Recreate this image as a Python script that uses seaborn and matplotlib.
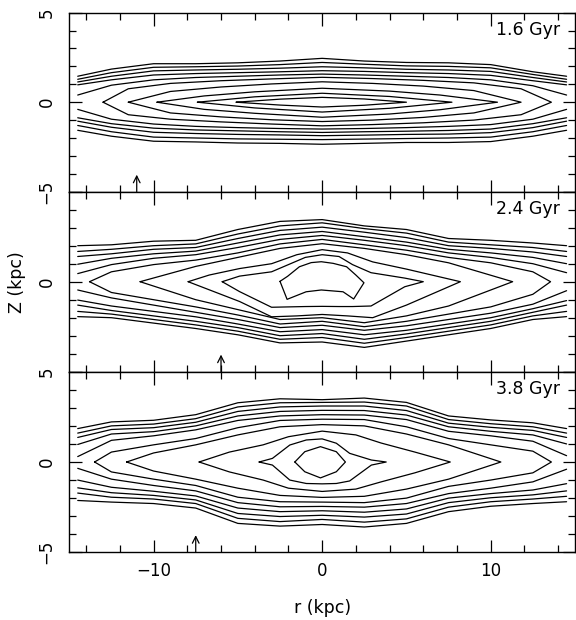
import numpy as np
import pandas as pd
import matplotlib
matplotlib.use("Agg")
import matplotlib.pyplot as plt
import seaborn as sns
from matplotlib.ticker import MultipleLocator, FixedLocator

# ---------------- data ----------------
R_NODES = [-14.5, -12.5, -10, -7.5, -5, -2.5, 0, 2.5, 5, 7.5, 10, 12.5, 14.5]
AGES = ["1.6 Gyr", "2.4 Gyr", "3.8 Gyr"]
ARROW_R = [-11.0, -6.0, -7.5]

# Panel 1 (1.6 Gyr): open contours, upper (outer->inner) and lower (inner->outer)
P1_UP = [
    [1.45, 1.85, 2.15, 2.15, 2.20, 2.30, 2.45, 2.30, 2.22, 2.20, 2.10, 1.70, 1.45],
    [1.28, 1.65, 1.95, 1.98, 2.02, 2.10, 2.22, 2.12, 2.03, 2.00, 1.92, 1.55, 1.28],
    [1.13, 1.45, 1.75, 1.80, 1.84, 1.90, 1.98, 1.92, 1.84, 1.80, 1.72, 1.38, 1.13],
    [0.97, 1.25, 1.52, 1.60, 1.65, 1.70, 1.76, 1.72, 1.65, 1.60, 1.50, 1.20, 0.97],
    [0.40, 0.95, 1.25, 1.38, 1.45, 1.52, 1.57, 1.52, 1.45, 1.38, 1.25, 0.92, 0.40],
]
P1_LOW = [
    [-0.40, -0.95, -1.22, -1.35, -1.42, -1.47, -1.50, -1.47, -1.42, -1.35, -1.25, -0.95, -0.40],
    [-0.87, -1.20, -1.45, -1.55, -1.60, -1.65, -1.69, -1.65, -1.62, -1.58, -1.50, -1.20, -0.87],
    [-1.06, -1.40, -1.68, -1.75, -1.80, -1.83, -1.87, -1.84, -1.80, -1.78, -1.70, -1.42, -1.06],
    [-1.30, -1.65, -1.95, -2.00, -2.05, -2.07, -2.09, -2.06, -2.03, -2.00, -1.95, -1.65, -1.30],
    [-1.57, -1.90, -2.18, -2.22, -2.28, -2.30, -2.35, -2.30, -2.25, -2.25, -2.20, -1.90, -1.57],
]
# closed contours: (r nodes, upper z, lower z)
P1_CLOSED = [
    ([-13.0, -11.5, -9, -6, -3, 0, 3, 6, 9, 11.8, 13.6],
     [0, 0.75, 1.05, 1.20, 1.30, 1.39, 1.32, 1.22, 1.08, 0.75, 0],
     [0, -0.70, -0.95, -1.10, -1.22, -1.32, -1.25, -1.15, -1.00, -0.70, 0]),
    ([-11.5, -9, -6, -3, 0, 3, 6, 9, 11.8],
     [0, 0.60, 0.85, 1.02, 1.14, 1.05, 0.90, 0.65, 0],
     [0, -0.60, -0.82, -0.98, -1.08, -1.00, -0.85, -0.60, 0]),
    ([-9.8, -7, -4, 0, 4, 7, 10.4],
     [0, 0.35, 0.58, 0.78, 0.62, 0.40, 0],
     [0, -0.40, -0.62, -0.84, -0.66, -0.42, 0]),
    ([-7.4, -4, 0, 4, 7.7],
     [0, 0.30, 0.50, 0.32, 0],
     [0, -0.32, -0.55, -0.34, 0]),
    ([-5.1, -2.5, 0, 2.5, 5.0],
     [0, 0.17, 0.27, 0.18, 0],
     [0, -0.16, -0.27, -0.17, 0]),
]

# Panel 2 (2.4 Gyr)
P2_UP = [
    [2.00, 2.05, 2.25, 2.30, 2.90, 3.35, 3.45, 3.10, 2.90, 2.40, 2.30, 2.15, 2.00],
    [1.68, 1.80, 2.00, 2.10, 2.65, 3.10, 3.27, 2.95, 2.70, 2.20, 2.05, 1.90, 1.68],
    [1.40, 1.55, 1.80, 1.90, 2.40, 2.85, 3.03, 2.75, 2.45, 2.00, 1.85, 1.65, 1.40],
    [0.97, 1.30, 1.55, 1.70, 2.15, 2.60, 2.79, 2.50, 2.20, 1.80, 1.60, 1.35, 1.00],
    [0.45, 0.95, 1.30, 1.50, 1.90, 2.35, 2.57, 2.30, 2.00, 1.60, 1.35, 1.00, 0.50],
]
P2_LOW = [
    [-0.46, -0.90, -1.30, -1.70, -2.10, -2.55, -2.42, -2.70, -2.45, -2.10, -1.75, -1.25, -0.50],
    [-1.02, -1.35, -1.65, -1.95, -2.35, -2.78, -2.66, -2.95, -2.70, -2.35, -2.00, -1.50, -1.05],
    [-1.30, -1.60, -1.90, -2.20, -2.55, -3.00, -2.88, -3.20, -2.90, -2.55, -2.20, -1.70, -1.30],
    [-1.65, -1.80, -2.10, -2.40, -2.75, -3.20, -3.10, -3.42, -3.10, -2.75, -2.40, -1.90, -1.65],
    [-1.94, -2.00, -2.30, -2.60, -2.95, -3.40, -3.35, -3.65, -3.30, -2.95, -2.60, -2.10, -1.94],
]
P2_CLOSED = [
    ([-13.8, -12.5, -10, -7.5, -5, -2.5, 0, 2.5, 5, 7.5, 10, 12.5, 13.55],
     [0, 0.55, 0.95, 1.20, 1.60, 2.10, 2.35, 2.05, 1.75, 1.35, 1.05, 0.55, 0],
     [0, -0.60, -1.00, -1.40, -1.85, -2.35, -2.20, -2.50, -2.20, -1.80, -1.40, -0.70, 0]),
    ([-10.8, -7.5, -5, -2.5, 0, 2.5, 5, 7.5, 11.3],
     [0, 0.85, 1.35, 1.85, 2.11, 1.85, 1.50, 1.05, 0],
     [0, -1.00, -1.55, -2.10, -2.00, -2.28, -1.90, -1.35, 0]),
    ([-7.95, -6.7, -4.9, -3, -1.5, 0, 1.5, 3, 5, 8.2],
     [0, 0.37, 0.73, 1.00, 1.50, 1.78, 1.60, 1.10, 0.70, 0],
     [0, -0.45, -1.10, -1.95, -1.90, -1.82, -1.90, -2.00, -1.30, 0]),
    ([-5.93, -4.9, -3.0, -2.0, -1.0, 0, 1.0, 1.8, 2.9, 4.9, 6.0],
     [0, 0.31, 0.55, 0.95, 1.35, 1.50, 1.40, 0.95, 0.50, 0.20, 0],
     [0, -0.55, -1.42, -1.40, -1.38, -1.37, -1.38, -1.38, -1.35, -0.28, 0]),
]
# irregular innermost contour of panel 2, given as a ring of vertices
P2_RING_R = [-2.50, -2.05, -1.35, -0.65, -0.05, 0.65, 1.45, 2.00, 2.48, 1.87, 1.24, -0.05, -0.95, -2.08]
P2_RING_Z = [0.02, 0.30, 0.83, 1.06, 1.11, 1.02, 0.83, 0.37, -0.06, -0.96, -0.56, -0.46, -0.56, -0.98]

# Panel 3 (3.8 Gyr)
P3_UP = [
    [1.85, 2.22, 2.31, 2.62, 3.28, 3.50, 3.45, 3.54, 3.30, 2.55, 2.33, 2.17, 1.85],
    [1.60, 2.00, 2.10, 2.40, 3.05, 3.28, 3.30, 3.32, 3.10, 2.35, 2.12, 1.95, 1.60],
    [1.36, 1.80, 1.90, 2.20, 2.80, 3.05, 3.10, 3.10, 2.85, 2.15, 1.92, 1.75, 1.36],
    [0.97, 1.55, 1.68, 2.00, 2.55, 2.80, 2.86, 2.85, 2.60, 1.95, 1.70, 1.50, 1.00],
    [0.30, 1.20, 1.45, 1.78, 2.30, 2.55, 2.62, 2.60, 2.35, 1.70, 1.45, 1.15, 0.35],
]
P3_LOW = [
    [-0.35, -0.95, -1.30, -1.60, -2.25, -2.48, -2.46, -2.50, -2.30, -1.75, -1.45, -1.10, -0.40],
    [-1.00, -1.40, -1.62, -1.88, -2.55, -2.75, -2.70, -2.78, -2.60, -2.00, -1.75, -1.55, -1.20],
    [-1.43, -1.70, -1.85, -2.10, -2.85, -3.02, -2.95, -3.05, -2.88, -2.25, -1.98, -1.82, -1.60],
    [-1.72, -1.95, -2.05, -2.30, -3.12, -3.30, -3.18, -3.33, -3.15, -2.50, -2.20, -2.05, -1.90],
    [-2.13, -2.22, -2.30, -2.55, -3.40, -3.55, -3.46, -3.60, -3.40, -2.75, -2.45, -2.30, -2.20],
]
P3_CLOSED = [
    ([-13.5, -12.5, -10, -7.5, -5, -2.5, 0, 2.5, 5, 7.5, 10, 12.5, 13.6],
     [0, 0.55, 0.95, 1.30, 1.90, 2.30, 2.37, 2.35, 1.95, 1.30, 0.95, 0.60, 0],
     [0, -0.55, -0.95, -1.30, -1.95, -2.20, -2.22, -2.25, -2.00, -1.35, -1.00, -0.60, 0]),
    ([-11.6, -10, -7.5, -5, -2.5, 0, 2.5, 5, 7.5, 10.6],
     [0, 0.50, 0.95, 1.50, 1.95, 2.07, 2.00, 1.55, 0.95, 0],
     [0, -0.50, -0.95, -1.45, -1.85, -1.96, -1.90, -1.50, -0.95, 0]),
    ([-7.3, -5.5, -3.5, -2, 0, 2, 3.5, 5.5, 7.6],
     [0, 0.55, 0.95, 1.40, 1.71, 1.50, 1.05, 0.55, 0],
     [0, -0.55, -1.00, -1.45, -1.63, -1.50, -1.10, -0.60, 0]),
    ([-3.74, -2.95, -1.92, -0.94, 0, 0.84, 1.63, 2.92, 3.8],
     [0, 0.20, 0.94, 1.22, 1.28, 1.04, 0.48, 0.11, 0],
     [0, -0.17, -1.00, -1.19, -1.21, -1.19, -1.05, -0.17, 0]),
    ([-1.62, -1.03, -0.10, 0.84, 1.38],
     [0, 0.57, 0.85, 0.57, 0],
     [0, -0.54, -0.88, -0.54, 0]),
]

PANELS = [
    (P1_UP, P1_LOW, P1_CLOSED, None),
    (P2_UP, P2_LOW, P2_CLOSED, (P2_RING_R, P2_RING_Z)),
    (P3_UP, P3_LOW, P3_CLOSED, None),
]


def panel_frame(up, low, closed, ring):
    rows = []
    cid = 0
    for line in up + low:
        for r, z in zip(R_NODES, line):
            rows.append((cid, r, z))
        cid += 1
    for rs, zu, zl in closed:
        path_r = list(rs) + list(rs[::-1])
        path_z = list(zu) + list(zl[::-1])
        for r, z in zip(path_r, path_z):
            rows.append((cid, r, z))
        cid += 1
    if ring is not None:
        rr, zz = ring
        for r, z in zip(list(rr) + [rr[0]], list(zz) + [zz[0]]):
            rows.append((cid, r, z))
        cid += 1
    return pd.DataFrame(rows, columns=["cid", "r", "z"])


sns.set_style("ticks")
plt.rcParams["font.family"] = ["DejaVu Sans"]
plt.rcParams["text.color"] = "black"
plt.rcParams["xtick.color"] = "black"
plt.rcParams["ytick.color"] = "black"
plt.rcParams["xtick.labelcolor"] = "black"
plt.rcParams["ytick.labelcolor"] = "black"

W, H = 576, 620
fig = plt.figure(figsize=(W / 100, H / 100), dpi=100)
left_px, right_px = 69.3, 575.0
tops = [12.7, 191.7, 371.7]
bots = [191.7, 371.7, 552.3]

for i, (up, low, closed, ring) in enumerate(PANELS):
    ax = fig.add_axes([left_px / W, 1 - bots[i] / H,
                       (right_px - left_px) / W, (bots[i] - tops[i]) / H])
    df = panel_frame(up, low, closed, ring)
    sns.lineplot(data=df, x="r", y="z", units="cid", estimator=None, sort=False,
                 color="black", linewidth=0.9, legend=False, ax=ax)
    ax.set_xlim(-15, 15)
    ax.set_ylim(-5, 5)
    ax.set_xlabel("")
    ax.set_ylabel("")
    for s in ax.spines.values():
        s.set_visible(True)
        s.set_linewidth(1.0)
        s.set_color("black")
    ax.xaxis.set_major_locator(FixedLocator([-10, 0, 10]))
    ax.xaxis.set_minor_locator(MultipleLocator(2))
    ax.yaxis.set_major_locator(FixedLocator([-5, 0, 5]))
    ax.yaxis.set_minor_locator(MultipleLocator(1))
    ax.tick_params(which="both", direction="in", top=True, right=True,
                   bottom=True, left=True, color="black", width=0.9)
    ax.tick_params(which="major", length=9)
    ax.tick_params(which="minor", length=5)
    ax.tick_params(axis="y", which="major", pad=10, labelsize=12)
    ax.tick_params(axis="x", which="major", pad=7, labelsize=12)
    if i == 1:
        ylabs = ["", "0", ""]
    else:
        ylabs = ["\u22125", "0", "5"]
    ax.set_yticklabels(ylabs, rotation=90, va="center")
    if i < 2:
        ax.set_xticklabels([])
    else:
        ax.set_xticklabels(["\u221210", "0", "10"])
    ax.text(0.97, 0.905, AGES[i], transform=ax.transAxes, ha="right",
            va="center", fontsize=12.5, color="black")
    ax.annotate("", xy=(ARROW_R[i], -4.05), xytext=(ARROW_R[i], -5.0),
                arrowprops=dict(arrowstyle="->", lw=0.9, color="black",
                                mutation_scale=12, shrinkA=0, shrinkB=0))

fig.text(16.6 / W, 1 - 281.7 / H, "Z (kpc)", rotation=90, ha="center",
         va="center", fontsize=12.5, color="black")
fig.text(322.4 / W, 1 - 608 / H, "r (kpc)", ha="center", va="center",
         fontsize=12.5, color="black")

fig.savefig("out.png", dpi=100)
